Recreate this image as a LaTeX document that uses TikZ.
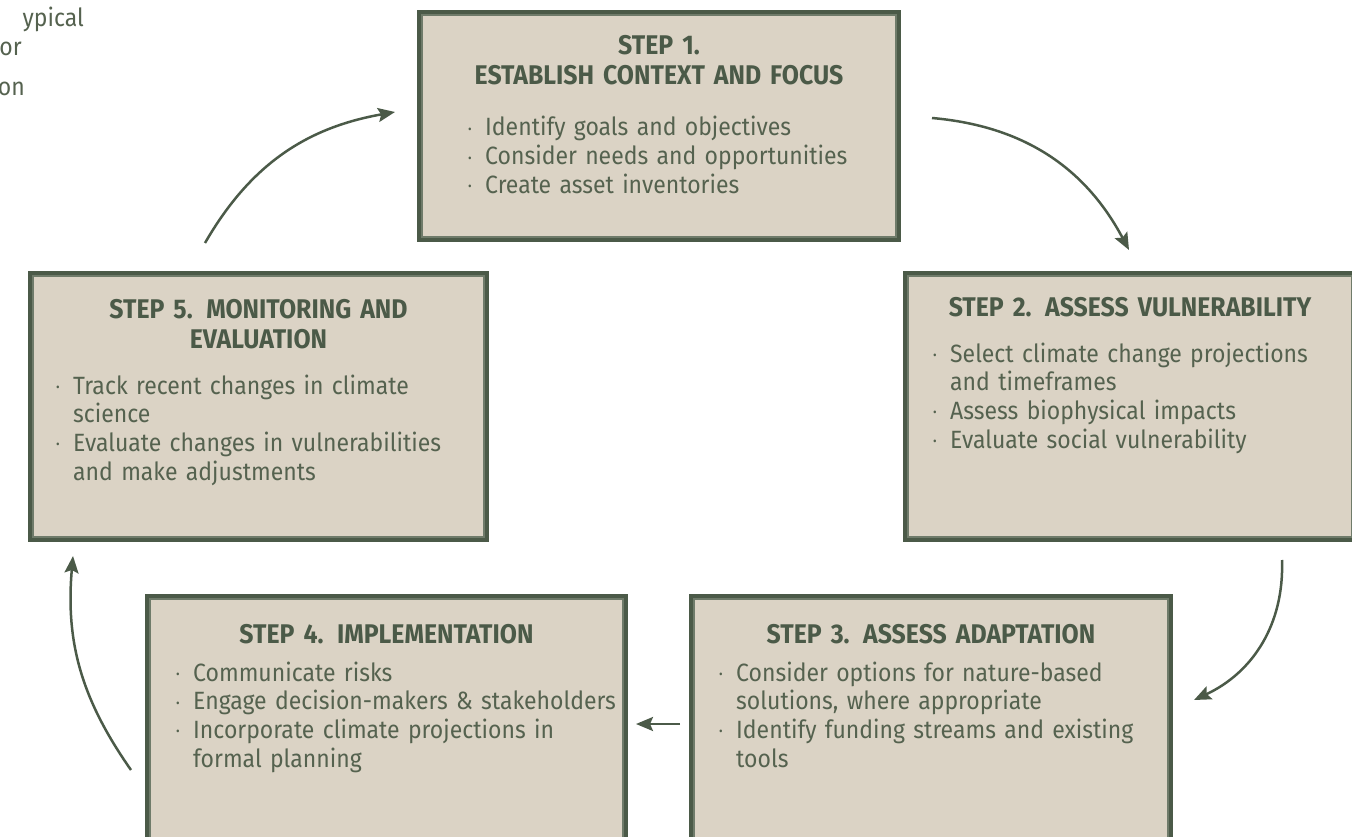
\documentclass[tikz,border=0pt]{standalone}
\usepackage{fontspec}
\setmainfont{Fira Sans}[FakeStretch=0.92]
\usetikzlibrary{positioning,arrows.meta}

\definecolor{moss}{HTML}{4B5A48}
\definecolor{mossline}{HTML}{6F7B6A}
\definecolor{mossink}{HTML}{55624F}
\definecolor{sand}{HTML}{DBD3C5}

\newcommand{\bul}{\makebox[17pt][l]{\raisebox{2.5pt}{\fontsize{12}{12}\selectfont\textbullet}}}
\newcommand{\hang}{\hspace*{17pt}}

\begin{document}
\begin{tikzpicture}[
  x=1pt, y=1pt,
  stepbox/.style={rectangle, fill=sand, draw=moss, line width=4pt, inner sep=0pt},
  frame/.style={draw=mossline, line width=1.5pt},
  head/.style={font=\fontsize{27}{30}\selectfont\bfseries, text=moss,
    align=center, text width=440pt, inner sep=0pt, anchor=base},
  items/.style={font=\fontsize{25}{28.7}\selectfont, text=mossink,
    align=left, text width=440pt, inner sep=0pt, anchor=base west},
  flow/.style={draw=moss, line width=2.5pt, -{Stealth[length=17pt,width=14pt,inset=3pt]}},
  cut/.style={font=\fontsize{25}{28.7}\selectfont, text=mossink, inner sep=0pt, anchor=base east}
]

\useasboundingbox (0,0) rectangle (1352,-837);
\clip (0,0) rectangle (1352,-837);

% line ends cut off at the left edge
\node[cut] (c1) at (84,-27) {ypical};
\node[cut] (c2) at (22,-56) {or};
\node[cut] (c3) at (25,-96) {on};

% step boxes
\node[stepbox, minimum width=480pt, minimum height=228pt] (s1) at (659,-126) {};
\node[stepbox, minimum width=450pt, minimum height=267pt] (s2) at (1130,-406.5) {};
\node[stepbox, minimum width=480pt, minimum height=262pt] (s3) at (931,-727) {};
\node[stepbox, minimum width=479pt, minimum height=262pt] (s4) at (386.5,-727) {};
\node[stepbox, minimum width=457pt, minimum height=267pt] (s5) at (258.5,-406.5) {};

\foreach \s in {s1,s2,s3,s4,s5}
  \draw[frame] ([shift={(5,-5)}]\s.north west) rectangle ([shift={(-5,5)}]\s.south east);

% step 1
\node[head] (h1) at (659,-55) {STEP 1.\\ESTABLISH CONTEXT AND FOCUS};
\node[items] (b1) at (468,-136) {\bul Identify goals and objectives\\
  \bul Consider needs and opportunities\\
  \bul Create asset inventories};

% step 2
\node[head] (h2) at (1130,-316) {STEP 2. ASSESS VULNERABILITY};
\node[items] (b2) at (933,-362) {\bul Select climate change projections\\
  \hang and timeframes\\
  \bul Assess biophysical impacts\\
  \bul Evaluate social vulnerability};

% step 3
\node[head] (h3) at (931,-643) {STEP 3. ASSESS ADAPTATION};
\node[items] (b3) at (719,-681) {\bul Consider options for nature-based\\
  \hang solutions, where appropriate\\
  \bul Identify funding streams and existing\\
  \hang tools};

% step 4
\node[head] (h4) at (386.5,-643) {STEP 4. IMPLEMENTATION};
\node[items] (b4) at (176,-681) {\bul Communicate risks\\
  \bul Engage decision-makers \& stakeholders\\
  \bul Incorporate climate projections in\\
  \hang formal planning};

% step 5
\node[head] (h5) at (258.5,-318) {STEP 5. MONITORING AND\\EVALUATION};
\node[items] (b5) at (56,-394) {\bul Track recent changes in climate\\
  \hang science\\
  \bul Evaluate changes in vulnerabilities\\
  \hang and make adjustments};

% cycle arrows
\draw[flow] ([shift={(-53.5,28)}]s5.north) to[out=60, in=190] ([shift={(-22,14)}]s1.west);
\draw[flow] ([shift={(31,8)}]s1.east) to[out=-5, in=118] ([shift={(-1,21)}]s2.north);
\draw[flow] ([shift={(152,-18)}]s2.south) to[out=-88, in=25] ([shift={(21,27)}]s3.east);
\draw[flow] ([shift={(-9,3)}]s3.west) -- ([shift={(8,3)}]s4.east);
\draw[flow] ([shift={(-14,-43)}]s4.west) to[out=125, in=-95] ([shift={(45,-14)}]s5.south west);

\end{tikzpicture}
\end{document}
